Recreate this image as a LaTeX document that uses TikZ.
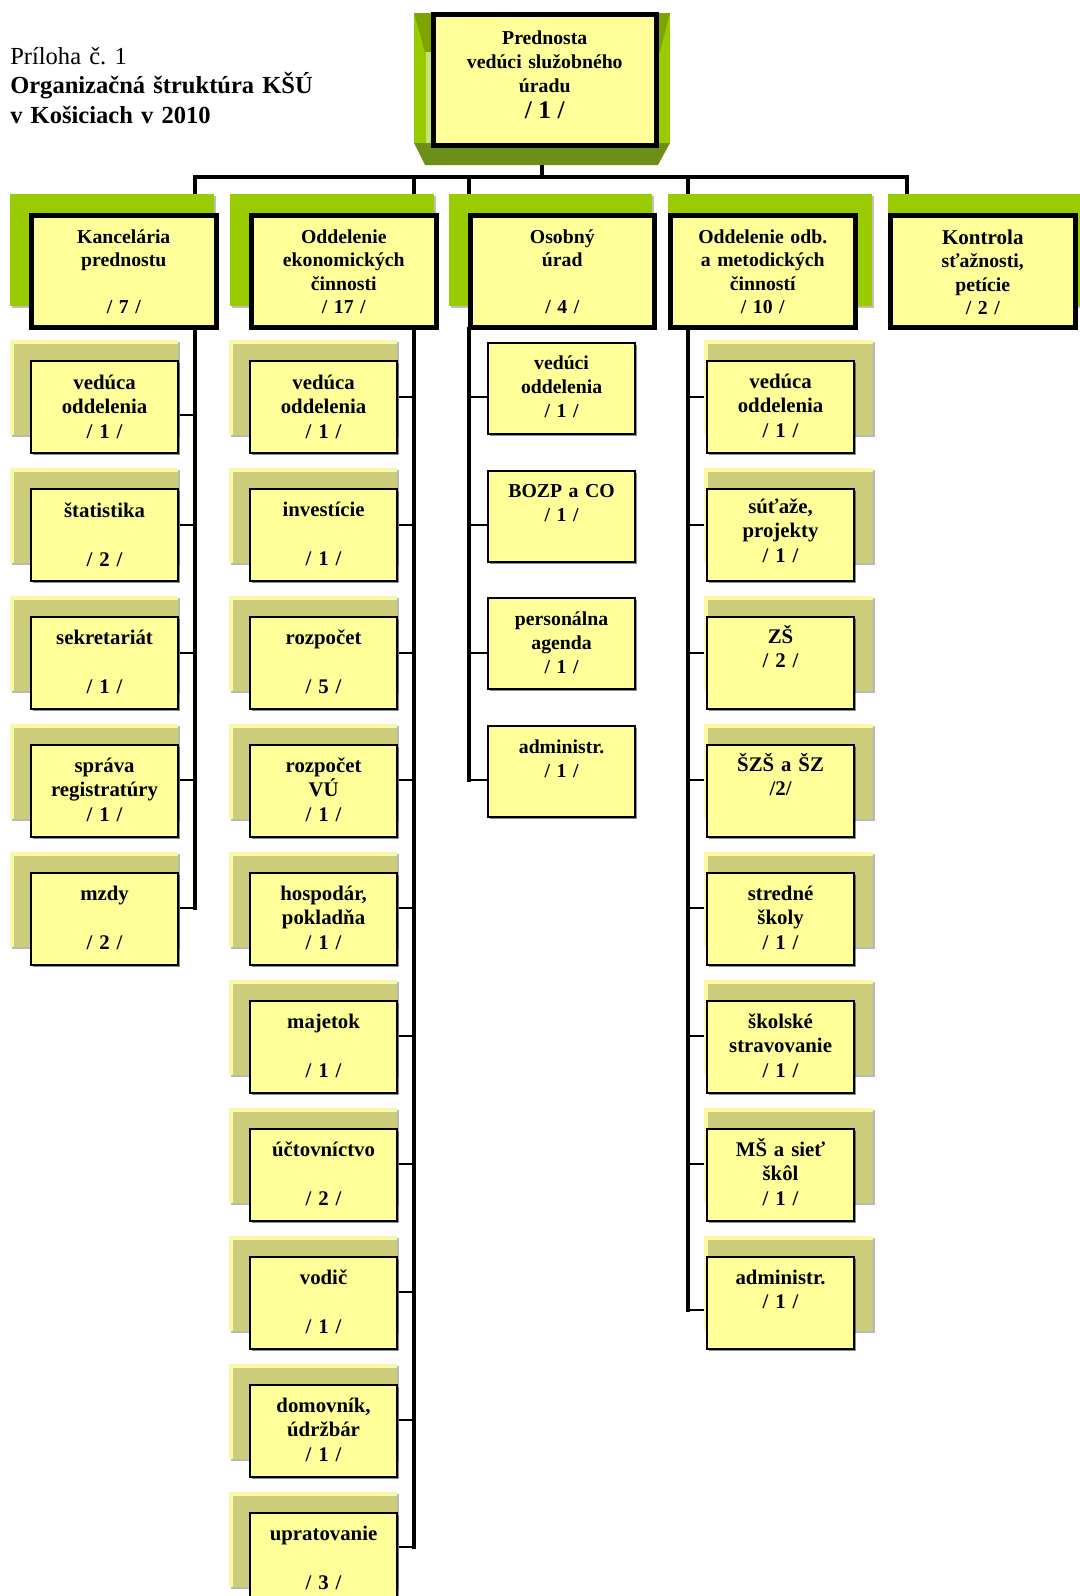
\documentclass[tikz,border=0pt]{standalone}
\usepackage{fontspec}
\setmainfont{Liberation Serif}
\usetikzlibrary{shadows}
\definecolor{yfill}{HTML}{FFFF99}
\definecolor{lgreen}{HTML}{99CC00}
\definecolor{oliveD}{HTML}{6E8E1A}
\definecolor{oliveM}{HTML}{7FA300}
\definecolor{pale}{HTML}{C6E27A}
\definecolor{khaki}{HTML}{CCCC7A}
\definecolor{kedge}{HTML}{FAFAA6}
\pgfdeclarelayer{bgw}\pgfdeclarelayer{lines}\pgfdeclarelayer{shade}
\pgfsetlayers{bgw,lines,shade,main}
% box: style, name, x1, y1, x2, y2, first-baseline offset (px), text
\newcommand\obox[8]{%
 \pgfmathsetlengthmacro\obw{(#5-#3)*0.75pt}%
 \pgfmathsetlengthmacro\obh{(#7)*0.75pt}%
 \pgfmathsetlengthmacro\obd{(#6-#4-#7)*0.75pt}%
 \node[#1, anchor=north west, text width=\obw, text height=\obh, text depth=\obd] (#2) at (#3,#4) {#8};}
% khaki shadows (left / right type), given the box corners
\newcommand\kshL[4]{\begin{pgfonlayer}{shade}
 \fill[black!28] (#1-18,#2-18) rectangle (#3+3,#4-15);
 \fill[kedge] (#1-20,#2-20) rectangle (#3+1,#4-17);
 \fill[khaki] (#1-16,#2-16) rectangle (#3+1,#4-17);\end{pgfonlayer}}
\newcommand\kshR[4]{\begin{pgfonlayer}{shade}
 \fill[black!28] (#1,#2-18) rectangle (#3+22,#4-15);
 \fill[kedge] (#1-2,#2-20) rectangle (#3+20,#4-17);
 \fill[khaki] (#1+2,#2-16) rectangle (#3+20,#4-17);\end{pgfonlayer}}
% green header shadows
\newcommand\gshL[4]{\begin{pgfonlayer}{shade}
 \fill[black!25] (#1-17,#2-17) rectangle (#3+2,#4-17);
 \fill[lgreen] (#1-19,#2-19) rectangle (#3,#4-19);\end{pgfonlayer}}
\newcommand\gshR[4]{\begin{pgfonlayer}{shade}
 \fill[black!25] (#1+2,#2-17) rectangle (#3+21,#4-17);
 \fill[lgreen] (#1,#2-19) rectangle (#3+19,#4-19);\end{pgfonlayer}}
\begin{document}
\begin{tikzpicture}[x=0.75pt,y=-0.75pt,
  sbox/.style={draw=black, line width=1.6pt, fill=yfill, inner sep=0pt, align=center,
    font=\fontsize{15.6}{18.6}\selectfont\bfseries,
    drop shadow={shadow xshift=1.2pt,shadow yshift=-1.2pt,opacity=.45,fill=black}},
  cbox/.style={sbox, font=\fontsize{14.8}{18}\selectfont\bfseries},
  hbox/.style={draw=black, line width=3.4pt, fill=yfill, inner sep=0pt, align=center,
    font=\fontsize{14.8}{17.6}\selectfont\bfseries},
  tbox/.style={hbox, font=\fontsize{14.8}{18}\selectfont\bfseries},
  spine/.style={line width=3.5pt, line cap=rect},
  tick/.style={line width=1.5pt}]
\begin{pgfonlayer}{bgw}
\fill[white] (0,0) rectangle (1080,1596);
\end{pgfonlayer}
\useasboundingbox (0,0) rectangle (1080,1596);

% ---------- title ----------
\node[anchor=base west, text width=420pt, align=left, inner sep=0pt,
      font=\fontsize{18.4}{22.4}\selectfont] (title) at (10,64)
  {Príloha č.\ 1\\\textbf{Organizačná štruktúra KŠÚ}\\\textbf{v Košiciach v 2010}};

% ---------- top box with bevelled frame ----------
\begin{pgfonlayer}{shade}
 \fill[lgreen] (414,13) rectangle (670,143);
 \fill[oliveD] (414,143) -- (670,143) -- (658,165) -- (425,165) -- cycle;
 \fill[oliveM] (414,13) -- (431,13) -- (431,52) -- (425,52) -- cycle;
 \fill[oliveM] (670,13) -- (654,13) -- (654,52) -- (660,52) -- cycle;
 \fill[pale] (426,52) rectangle (431,143);
 \fill[pale] (654,52) rectangle (659,143);
\end{pgfonlayer}
\obox{tbox}{top}{431}{12}{654}{143}{30}{Prednosta\\vedúci služobného\\úradu\\[1.5pt]{\fontsize{19}{20}\selectfont / 1 /}}
\coordinate (topb) at (542,165);

% ---------- helper coordinates ----------
\coordinate (bus) at (0,177);
\coordinate (gtop) at (0,194);
\coordinate (sp1) at (195,0);
\coordinate (sp2) at (414,0);
\coordinate (sp3) at (469,0);
\coordinate (sp4) at (688,0);
\coordinate (sp5) at (907,0);
\coordinate (r0) at (0,397);
\coordinate (r0a) at (0,415);
\coordinate (r1) at (0,525);
\coordinate (r2) at (0,653);
\coordinate (r3) at (0,780);
\coordinate (r4) at (0,908);
\coordinate (r5) at (0,1036);
\coordinate (r6) at (0,1164);
\coordinate (r7) at (0,1292);
\coordinate (r7b) at (0,1310);
\coordinate (r8) at (0,1420);
\coordinate (r9) at (0,1547);

% ---------- headers ----------
\gshL{29}{213}{214}{325}
\obox{hbox}{h1}{29}{213}{214}{325}{28}{Kancelária\\prednostu\\~\\/ 7 /}
\gshL{249}{213}{434}{325}
\obox{hbox}{h2}{249}{213}{434}{325}{28}{Oddelenie\\ekonomických\\činnosti\\/ 17 /}
\gshL{468}{213}{652}{325}
\obox{hbox}{h3}{468}{213}{652}{325}{28}{Osobný\\úrad\\~\\/ 4 /}
\gshR{668}{213}{853}{325}
\obox{hbox}{h4}{668}{213}{853}{325}{28}{Oddelenie odb.\\a metodických\\činností\\/ 10 /}
\gshR{888}{213}{1073}{325}
\obox{hbox}{h5}{888}{213}{1073}{325}{29}{{\fontsize{15.8}{17.6}\selectfont Kontrola}\\sťažnosti,\\petície\\/ 2 /}

% ---------- column 1 ----------
\kshL{30}{360}{177}{452}
\obox{sbox}{a1}{30}{360}{177}{452}{28}{vedúca\\oddelenia\\/ 1 /}
\kshL{30}{488}{177}{580}
\obox{sbox}{a2}{30}{488}{177}{580}{28}{štatistika\\~\\/ 2 /}
\kshL{30}{616}{177}{708}
\obox{sbox}{a3}{30}{616}{177}{708}{27}{sekretariát\\~\\/ 1 /}
\kshL{30}{744}{177}{836}
\obox{sbox}{a4}{30}{744}{177}{836}{27}{správa\\registratúry\\/ 1 /}
\kshL{30}{872}{177}{964}
\obox{sbox}{a5}{30}{872}{177}{964}{27}{mzdy\\~\\/ 2 /}

% ---------- column 2 ----------
\kshL{249}{360}{396}{452}
\obox{sbox}{b1}{249}{360}{396}{452}{28}{vedúca\\oddelenia\\/ 1 /}
\kshL{249}{488}{396}{580}
\obox{sbox}{b2}{249}{488}{396}{580}{27}{investície\\~\\/ 1 /}
\kshL{249}{616}{396}{708}
\obox{sbox}{b3}{249}{616}{396}{708}{27}{rozpočet\\~\\/ 5 /}
\kshL{249}{744}{396}{836}
\obox{sbox}{b4}{249}{744}{396}{836}{27}{rozpočet\\VÚ\\/ 1 /}
\kshL{249}{872}{396}{964}
\obox{sbox}{b5}{249}{872}{396}{964}{27}{hospodár,\\pokladňa\\/ 1 /}
\kshL{249}{1000}{396}{1092}
\obox{sbox}{b6}{249}{1000}{396}{1092}{27}{majetok\\~\\/ 1 /}
\kshL{249}{1128}{396}{1220}
\obox{sbox}{b7}{249}{1128}{396}{1220}{27}{účtovníctvo\\~\\/ 2 /}
\kshL{249}{1256}{396}{1348}
\obox{sbox}{b8}{249}{1256}{396}{1348}{27}{vodič\\~\\/ 1 /}
\kshL{249}{1384}{396}{1476}
\obox{sbox}{b9}{249}{1384}{396}{1476}{27}{domovník,\\údržbár\\/ 1 /}
\kshL{249}{1512}{396}{1604}
\obox{sbox}{b10}{249}{1512}{396}{1604}{27}{upratovanie\\~\\/ 3 /}

% ---------- column 3 ----------
\obox{cbox}{c1}{487}{342}{634}{433}{26}{vedúci\\oddelenia\\/ 1 /}
\obox{cbox}{c2}{487}{470}{634}{561}{26}{BOZP a CO\\/ 1 /}
\obox{cbox}{c3}{487}{597}{634}{688}{27}{personálna\\agenda\\/ 1 /}
\obox{cbox}{c4}{487}{725}{634}{816}{27}{administr.\\/ 1 /}

% ---------- column 4 ----------
\kshR{706}{360}{853}{452}
\obox{sbox}{d1}{706}{360}{853}{452}{27}{vedúca\\oddelenia\\/ 1 /}
\kshR{706}{488}{853}{580}
\obox{sbox}{d2}{706}{488}{853}{580}{24}{súťaže,\\projekty\\/ 1 /}
\kshR{706}{616}{853}{708}
\obox{sbox}{d3}{706}{616}{853}{708}{26}{ZŠ\\/ 2 /}
\kshR{706}{744}{853}{836}
\obox{sbox}{d4}{706}{744}{853}{836}{26}{ŠZŠ a ŠZ\\/2/}
\kshR{706}{872}{853}{964}
\obox{sbox}{d5}{706}{872}{853}{964}{27}{stredné\\školy\\/ 1 /}
\kshR{706}{1000}{853}{1092}
\obox{sbox}{d6}{706}{1000}{853}{1092}{27}{školské\\stravovanie\\/ 1 /}
\kshR{706}{1128}{853}{1220}
\obox{sbox}{d7}{706}{1128}{853}{1220}{27}{MŠ a sieť\\škôl\\/ 1 /}
\kshR{706}{1256}{853}{1348}
\obox{sbox}{d8}{706}{1256}{853}{1348}{27}{administr.\\/ 1 /}

% ---------- connectors ----------
\begin{pgfonlayer}{lines}
 \draw[spine] (sp1 |- bus) -- (sp5 |- bus);
 \draw[spine] (topb) -- (topb |- bus);
 \foreach \s in {sp1,sp2,sp3,sp4,sp5} \draw[spine] (\s |- bus) -- (\s |- gtop);
 \draw[spine] (h1.south -| sp1) -- (sp1 |- r4);
 \draw[spine] (h2.south -| sp2) -- (sp2 |- r9);
 \draw[spine] (h3.south -| sp3) -- (sp3 |- r3);
 \draw[spine] (h4.south -| sp4) -- (sp4 |- r7b);
 % column 1
 \draw[tick] (a1.east |- r0a) -- (sp1 |- r0a);
 \draw[tick] (a2.east |- r1) -- (sp1 |- r1);
 \draw[tick] (a3.east |- r2) -- (sp1 |- r2);
 \draw[tick] (a4.east |- r3) -- (sp1 |- r3);
 \draw[tick] (a5.east |- r4) -- (sp1 |- r4);
 % column 2
 \draw[tick] (b1.east |- r0) -- (sp2 |- r0);
 \draw[tick] (b2.east |- r1) -- (sp2 |- r1);
 \draw[tick] (b3.east |- r2) -- (sp2 |- r2);
 \draw[tick] (b4.east |- r3) -- (sp2 |- r3);
 \draw[tick] (b5.east |- r4) -- (sp2 |- r4);
 \draw[tick] (b6.east |- r5) -- (sp2 |- r5);
 \draw[tick] (b7.east |- r6) -- (sp2 |- r6);
 \draw[tick] (b8.east |- r7) -- (sp2 |- r7);
 \draw[tick] (b9.east |- r8) -- (sp2 |- r8);
 \draw[tick] (b10.east |- r9) -- (sp2 |- r9);
 % column 3
 \draw[tick] (c1.west |- r0) -- (sp3 |- r0);
 \draw[tick] (c2.west |- r1) -- (sp3 |- r1);
 \draw[tick] (c3.west |- r2) -- (sp3 |- r2);
 \draw[tick] (c4.west |- r3) -- (sp3 |- r3);
 % column 4
 \draw[tick] (d1.west |- r0) -- (sp4 |- r0);
 \draw[tick] (d2.west |- r1) -- (sp4 |- r1);
 \draw[tick] (d3.west |- r2) -- (sp4 |- r2);
 \draw[tick] (d4.west |- r3) -- (sp4 |- r3);
 \draw[tick] (d5.west |- r4) -- (sp4 |- r4);
 \draw[tick] (d6.west |- r5) -- (sp4 |- r5);
 \draw[tick] (d7.west |- r6) -- (sp4 |- r6);
 \draw[tick] (d8.west |- r7b) -- (sp4 |- r7b);
\end{pgfonlayer}
\end{tikzpicture}
\end{document}
